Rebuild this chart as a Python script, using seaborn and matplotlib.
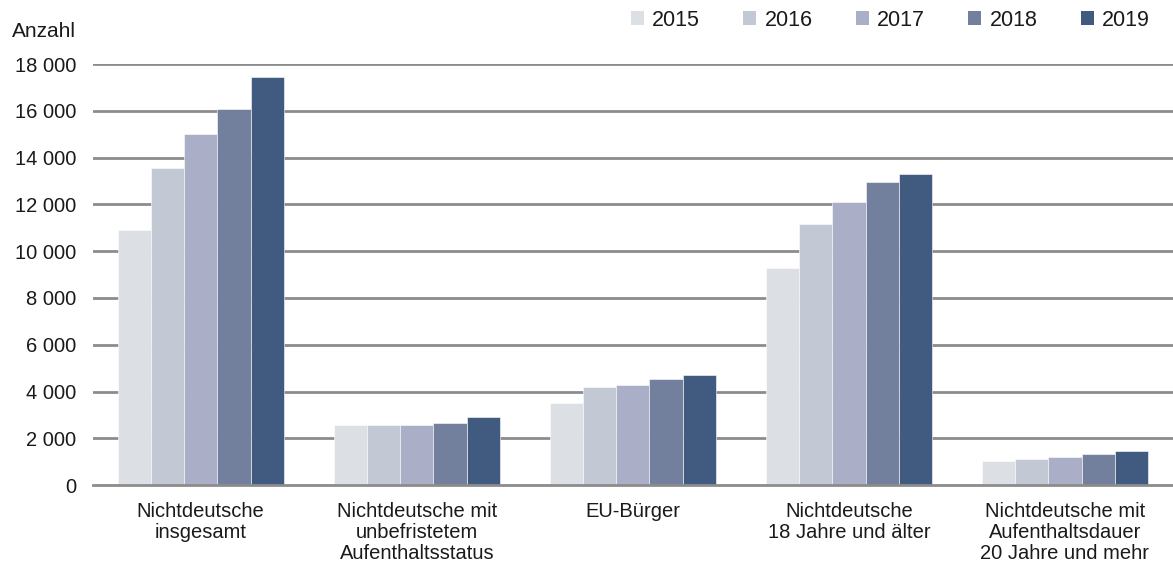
import matplotlib
matplotlib.use("Agg")
import matplotlib.pyplot as plt
import seaborn as sns
import pandas as pd
from matplotlib.patches import Patch

categories = ["Nichtdeutsche\ninsgesamt",
              "Nichtdeutsche mit\nunbefristetem\nAufenthaltsstatus",
              "EU-Bürger",
              "Nichtdeutsche\n18 Jahre und älter",
              "Nichtdeutsche mit\nAufenthaltsdauer\n20 Jahre und mehr"]
years = ["2015", "2016", "2017", "2018", "2019"]
v2015 = [10900, 2560, 3500, 9280, 1040]
v2016 = [13550, 2560, 4180, 11160, 1125]
v2017 = [15000, 2560, 4275, 12090, 1210]
v2018 = [16100, 2650, 4520, 12940, 1310]
v2019 = [17450, 2910, 4700, 13280, 1470]
yticks = [0, 2000, 4000, 6000, 8000, 10000, 12000, 14000, 16000, 18000]
ytick_labels = ["0", "2 000", "4 000", "6 000", "8 000", "10 000", "12 000", "14 000", "16 000", "18 000"]
colors = ["#dce0e5", "#c3c8d5", "#aaaec6", "#72809e", "#405a80"]

rows = []
for y, vals in zip(years, [v2015, v2016, v2017, v2018, v2019]):
    for c, v in zip(categories, vals):
        rows.append({"Kategorie": c, "Jahr": y, "Anzahl": v})
df = pd.DataFrame(rows)

sns.set_style("white")
plt.rcParams['font.family'] = ['Liberation Sans', 'DejaVu Sans']

fig = plt.figure(figsize=(11.73, 5.72), dpi=100)
ax = fig.add_axes([0.079, 0.152, 0.921, 0.736])
sns.barplot(data=df, x="Kategorie", y="Anzahl", hue="Jahr", order=categories,
            hue_order=years, palette=colors, saturation=1, width=0.77, gap=0,
            edgecolor="white", linewidth=0.4, ax=ax, legend=False, zorder=3)
ax.set_ylim(0, 18000)
ax.set_xlim(-0.5, 4.5)
ax.set_yticks(yticks)
ax.set_yticklabels(ytick_labels, fontsize=14.5, color="#1a1a1a")
ax.tick_params(axis="x", labelsize=14.5, colors="#1a1a1a", length=0, pad=12)
ax.tick_params(axis="y", length=0, pad=12)
for lbl in ax.get_yticklabels():
    lbl.set_horizontalalignment("right")
for lbl in ax.get_xticklabels():
    lbl.set_linespacing(1.15)
ax.set_xlabel("")
ax.set_ylabel("")
for y in yticks[1:]:
    ax.axhline(y, color="#8c8c8c", linewidth=2, zorder=1)
for s in ["left", "right", "top"]:
    ax.spines[s].set_visible(False)
ax.spines["bottom"].set_color("#8c8c8c")
ax.spines["bottom"].set_linewidth(2)
ax.spines["bottom"].set_zorder(4)

fig.text(0.01, 0.945, "Anzahl", fontsize=15, color="#1a1a1a", va="center")

handles = [Patch(facecolor=c, edgecolor="none") for c in colors]
leg = fig.legend(handles, years, loc="center right", bbox_to_anchor=(0.997, 0.965),
                 ncol=5, frameon=False, fontsize=15.5, handlelength=0.6, handleheight=0.6,
                 handletextpad=0.4, columnspacing=2.0)
for t in leg.get_texts():
    t.set_color("#1a1a1a")

fig.savefig("out.png", dpi=100)
